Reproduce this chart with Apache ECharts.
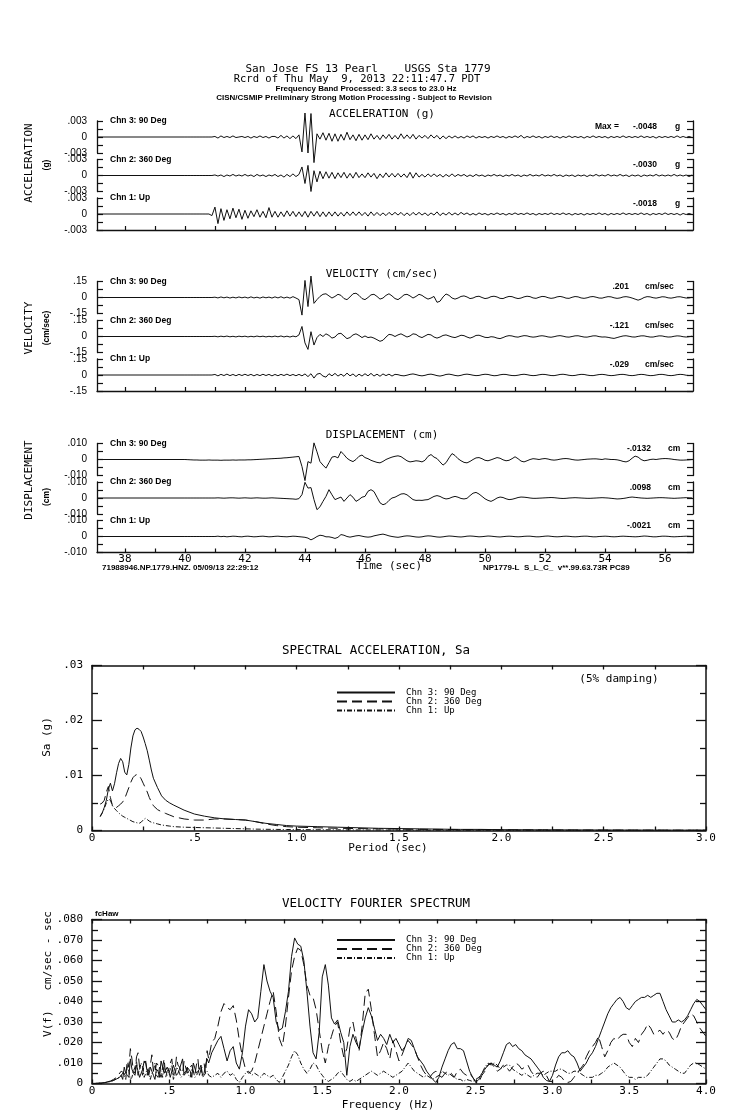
<!DOCTYPE html>
<html><head><meta charset="utf-8">
<script src="https://cdn.jsdelivr.net/npm/echarts@6.0.0/dist/echarts.min.js"></script>
<style>html,body{margin:0;padding:0;background:#fff}#c{width:739px;height:1115px}</style>
</head><body><div id="c"></div>
<script>
// ---------------- DATA ----------------
// Time histories: samples every 0.1 s starting at 40.0 s (record starts at 37.07 s with zero motion)
const recordStart = 37.07, recordEnd = 56.93;
const traceStart = 40.0, traceStep = 0.1;
const channelNames = ['Chn 3: 90 Deg', 'Chn 2: 360 Deg', 'Chn 1: Up'];
const timeTicks = [38,39,40,41,42,43,44,45,46,47,48,49,50,51,52,53,54,55,56];
const timeTickLabels = [38,40,42,44,46,48,50,52,54,56];

// Acceleration, units of 0.0001 g
const accCh3 = [
 0,0,0,0,0,0,0,0,0,0,
 1,-2,2,-1,1,-1,2,-1,0,1,
 -1,1,-2,1,-1,2,-1,1,-2,1,
 1,-2,3,-2,2,-3,2,-3,4,-28,
 45,-30,44,-48,6,-4,8,-6,7,-8,
 6,-8,5,-6,9,-5,4,-7,5,-6,
 4,-5,6,-4,3,-5,4,-3,5,-4,
 3,-4,6,-3,4,-3,5,-4,3,-2,
 3,-3,4,-2,3,-4,2,-3,2,-2,
 2,-2,1,-2,2,-1,2,-2,1,-1,
 1,-2,1,-1,2,-1,1,-2,1,-1,
 2,-1,3,-2,1,-1,2,-1,1,-2,
 1,-1,2,-1,1,-2,1,-1,2,-1,
 1,-1,1,-2,1,-1,2,-1,1,-1,
 1,-2,1,-1,1,-1,2,-1,1,-1,
 1,-1,2,-1,1,-1,1,-2,1,-1,
 1,-1,1,-1,2,-1,1,-1,1,-1];
const accCh2 = [
 0,0,0,0,0,0,0,0,0,0,
 1,-1,1,-2,1,-1,2,-1,1,-1,
 2,-1,1,-2,2,-1,1,-2,1,-1,
 2,-2,1,-3,2,-2,3,-2,2,16,
 -15,19,-30,9,-12,8,-6,7,-5,6,
 -6,5,-4,6,-5,4,-5,6,-4,3,
 -4,5,-3,4,-6,3,-4,5,-3,4,
 -3,4,-3,3,-4,6,-5,5,-3,2,
 -3,3,-2,3,-2,2,-3,2,-2,3,
 -2,2,-1,2,-2,1,-2,2,-1,1,
 -2,1,-1,2,-1,1,-2,1,-1,2,
 -1,1,-2,1,-1,2,-1,1,-1,2,
 -1,1,-1,2,-1,1,-2,1,-1,1,
 -2,1,-1,1,-2,1,-1,2,-1,1,
 -1,2,-1,1,-1,2,-1,1,-2,1,
 -1,1,-2,1,-1,1,-1,2,-1,1,
 -1,1,-1,2,-1,1,-1,1,-2,1];
const accCh1 = [
 0,0,0,0,0,0,0,0,0,-3,
 13,-18,10,-12,8,-9,11,-7,9,-10,
 7,-8,6,-5,8,-6,5,-7,12,-6,
 5,-6,4,-5,6,-4,5,-5,4,-5,
 5,-6,5,-4,5,-5,4,-5,4,-4,
 4,-4,3,-4,4,-3,4,-3,4,-3,
 3,-4,4,-3,3,-3,2,-3,3,-2,
 3,-2,3,-3,2,-3,3,-2,3,-2,
 2,-3,2,-2,4,-3,2,-2,3,-2,
 2,-2,3,-1,2,-2,1,-2,2,-1,
 1,-2,1,-1,2,-1,1,-2,1,-1,
 2,-1,1,-1,2,-1,1,-2,1,-1,
 1,-1,2,-1,1,-1,2,-1,1,-2,
 1,-1,1,-2,1,-1,1,-1,2,-1,
 1,-2,1,-1,1,-1,2,-1,1,-1,
 1,-1,2,-1,1,-2,1,-1,1,-1,
 2,-1,1,-1,1,-2,1,-1,1,-1];
const accPeaks = ['-.0048', '-.0030', '-.0018'];
const accTickLabels = ['.003', '0', '-.003'];

// Velocity, units of 0.001 cm/sec
const velCh3 = [
 0,0,0,0,0,0,0,0,0,0,
 3,-4,5,-3,4,-5,3,-4,5,-3,
 4,-5,6,-4,3,-6,5,-3,4,-5,
 6,-4,7,-5,4,-6,8,-5,-20,-165,
 160,-85,201,-55,-20,10,30,35,15,-5,
 10,30,20,-10,-20,5,35,40,20,-10,
 -20,0,25,30,10,-15,-5,20,35,15,
 -10,-20,0,25,30,15,-5,10,30,20,
 0,-15,-5,10,-45,-35,5,33,20,-5,
 -15,-5,10,15,5,-10,-5,8,12,0,
 -10,-5,8,12,5,-8,-10,2,10,8,
 -3,-10,-5,6,12,8,-4,-8,2,10,
 8,-2,-8,-4,6,10,4,-6,-8,2,
 9,6,-4,-8,-3,6,9,3,-5,-6,
 2,8,6,-3,-8,-4,5,8,3,-5,
 -15,-25,-15,0,8,6,-2,-6,0,7,
 5,-3,-6,-1,6,7,1,-5,-4,2];
const velCh2 = [
 0,0,0,0,0,0,0,0,0,0,
 2,-3,3,-2,4,-3,2,-4,3,-2,
 3,-4,2,-3,4,-2,3,-4,2,-3,
 4,-3,5,-4,3,-5,4,-3,15,94,
 -60,-121,45,-80,-10,20,0,25,10,-15,
 -5,25,30,5,-20,-10,15,25,10,-10,
 5,-10,-5,-15,-30,-45,-35,-5,20,15,
 0,15,25,10,-5,5,25,20,0,-10,
 5,20,15,-5,-15,-5,10,15,5,-5,
 -10,0,12,8,-5,-15,-5,10,12,2,
 -8,-10,-2,-5,-15,-20,-10,2,8,5,
 -3,-6,2,8,6,-2,-6,-3,4,7,
 3,-4,-7,-2,5,8,3,-4,-6,0,
 6,7,1,-5,-6,0,6,6,-1,-5,
 -4,-8,-14,-18,-10,-2,5,7,2,-4,
 -5,1,6,6,0,-5,-5,1,6,5,
 -1,-5,-4,2,6,4,-2,-5,-2,3];
const velCh1 = [
 0,0,0,0,0,0,0,0,0,0,
 5,-8,6,-5,8,-6,5,-7,6,-5,
 7,-5,6,-8,5,-6,7,-5,6,-8,
 5,-7,6,-5,8,-6,5,-7,6,-8,
 10,-15,12,-29,8,15,-10,-20,12,-8,
 15,-10,8,-12,18,-8,10,-15,8,-10,
 12,-8,15,-10,8,-12,10,-6,8,-10,
 6,3,-5,-8,-2,6,10,4,-4,-8,
 -3,5,8,2,-6,-10,-4,5,8,3,
 -4,-8,-3,5,8,4,-2,-6,-4,3,
 7,5,-2,-7,-5,2,6,5,-1,-5,
 -6,-2,4,7,3,-3,-6,-4,2,6,
 5,0,-5,-6,-1,5,7,3,-3,-6,
 -4,2,6,5,-1,-5,-6,-1,4,6,
 3,-3,-6,-4,1,5,6,2,-4,-6,
 -3,3,6,4,-2,-6,-5,0,5,6,
 2,-4,-6,-3,3,6,4,-2,-5,-3];
const velPeaks = ['.201', '-.121', '-.029'];
const velTickLabels = ['.15', '0', '-.15'];

// Displacement, units of 0.0001 cm
const dispCh3 = [
 0,-1,-2,-3,-3,-4,-4,-4,-3,-4,
 -4,-4,-5,-4,-4,-4,-3,-4,-3,-3,
 -3,-2,-2,-1,0,1,2,3,4,5,
 6,7,8,10,11,13,15,17,19,-44,
 -132,-13,-23,104,48,-13,-35,-54,-20,15,
 19,10,50,30,8,-5,-13,0,20,28,
 12,5,-5,-12,-18,-21,-12,0,8,15,
 20,23,18,5,-8,-15,-12,-8,-10,-15,
 -5,20,31,15,6,-15,-35,-20,10,37,
 25,5,-8,-18,-21,-12,0,10,12,5,
 -5,-8,-2,5,12,8,-2,-8,-5,5,
 17,5,-10,-15,-8,0,5,3,0,4,
 6,3,-2,-4,-2,2,5,6,4,0,
 -3,-4,-2,0,2,3,4,4,2,0,
 4,2,0,0,-2,-6,-12,-15,-8,8,
 21,15,0,-8,-5,0,2,0,3,5,
 6,5,3,0,-2,-4,-4,-3,-2,0];
const dispCh2 = [
 0,0,0,0,0,0,0,0,0,0,
 0,1,0,-1,0,1,1,0,-1,0,
 1,0,-1,0,1,0,-1,-1,0,1,
 0,-1,-2,-3,-4,-5,-6,-8,-4,21,
 98,62,65,-10,-73,-55,-21,10,52,20,
 -10,-2,6,-21,0,21,5,-21,-10,5,
 10,42,52,40,5,-30,-42,-35,-15,0,
 5,15,25,27,20,5,-10,-15,-14,-15,
 -12,-10,0,10,15,10,0,-6,-3,5,
 10,5,-3,-6,-2,15,30,35,25,10,
 -5,-15,-21,-12,0,6,3,-5,-10,-8,
 -3,3,6,5,3,0,-2,-2,-1,0,
 1,2,3,2,0,-2,-3,-2,0,1,
 2,1,0,-1,-2,-2,-1,0,1,2,
 1,0,-2,-4,-6,-5,-3,0,4,6,
 4,2,0,-1,-2,-1,0,1,2,2,
 1,0,-1,-2,-1,0,1,2,1,0];
const dispCh1 = [
 0,0,0,0,0,0,0,0,0,0,
 0,2,-1,1,-2,0,2,1,-1,-2,
 1,2,0,-2,-1,1,2,0,-2,-1,
 1,2,0,-1,-2,0,2,1,-1,-3,
 -5,-10,-21,-12,0,8,5,-2,-2,-6,
 -12,-5,12,8,0,-4,0,4,6,2,
 -2,-4,-2,4,8,12,15,10,4,0,
 -3,-5,-2,2,4,3,0,-3,-4,-2,
 2,4,3,0,-3,-4,-2,1,3,2,
 0,-2,-3,-1,2,3,2,0,-2,-1,
 1,3,2,0,-2,-3,-1,1,2,1,
 -1,-2,-1,1,2,2,0,-2,-2,0,
 2,3,1,-1,-2,-1,1,2,1,-1,
 -2,-1,1,2,2,0,-2,-2,0,1,
 2,1,-1,-2,-1,1,2,1,0,-1,
 -2,-1,1,3,2,0,-2,-2,0,2,
 2,1,-1,-2,-1,0,1,2,1,0];
const dispPeaks = ['-.0132', '.0098', '-.0021'];
const dispTickLabels = ['.010', '0', '-.010'];

// Spectral acceleration (5% damping), Sa in units of 0.0001 g
const saPeriod = [0.04,0.05,0.06,0.07,0.08,0.09,0.10,0.11,0.12,0.13,0.14,0.15,0.16,0.17,0.18,0.19,0.20,0.21,0.22,0.23,0.24,0.25,0.26,0.27,0.28,0.29,0.30,
 0.32,0.34,0.36,0.38,0.40, 0.45,0.50,0.55,0.60,0.65,0.70,0.75,0.80,0.85,0.90,0.95,1.0, 1.1,1.2,1.3,1.4,1.5,1.6,1.7,1.8,1.9,2.0, 2.2,2.4,2.6,2.8,3.0];
const saCh3 = [25,32,42,55,75,86,72,85,105,122,131,125,106,101,120,150,172,183,186,184,180,170,158,145,128,110,95,
 78,63,55,50,46, 37,30,26,23,21,20,19,16,13,11,9,8, 7,6,5,4,3.5,3,2.5,2,2,1.5, 1.2,1,0.8,0.7,0.6];
const saCh2 = [48,50,55,70,80,60,45,40,42,45,48,52,58,68,78,88,96,100,102,100,94,86,78,70,60,52,45,
 38,34,31,28,25, 21,19,19,21,21,20,19,16,12,9,7,6, 5,4,3.5,3,2.5,2,2,1.5,1.5,1.2, 1,0.8,0.7,0.6,0.5];
const saCh1 = [26,32,40,50,57,55,45,40,36,32,29,26,24,22,20,18,16,15,14,13,15,19,22,20,17,15,14,
 12,10,9,8,7, 6,5.5,5,4.5,4,3.5,3,2.5,2.2,2,1.8,1.6, 1.4,1.2,1,0.9,0.8,0.7,0.6,0.5,0.5,0.4, 0.4,0.3,0.3,0.3,0.3];
const saXLabels = ['0', '.5', '1.0', '1.5', '2.0', '2.5', '3.0'];
const saYLabels = ['0', '.01', '.02', '.03'];

// Velocity Fourier spectrum, units of 0.001 cm/sec-sec, every 0.02 Hz from 0 Hz
const fsStep = 0.02;
const fsCh3 = [
 0,0,0.1,0.2,0.4,0.7,1,1.5,2.2,3,
 2,5,3,7,4,9,5,11,6,8,
 4,7,3,8,5,6,3,9,5,7,
 4,8,6,10,5,7,4,9,10,15,
 18,21,23,17,11,16,18,10,7,15,
 28,36,34,30,32,45,58,50,45,42,
 30,26,27,35,45,62,71,68,67,60,
 45,28,15,12,25,52,58,48,32,29,
 31,25,20,4,18,24,20,17,25,32,
 37,33,27,21,24,22,19,24,20,22,
 19,16,18,22,21,17,13,11,9,6,
 4,2,0.5,3,8,12,16,19,20,17,
 17,16,11,6,3,0.5,2,5,7,9,
 10,9,8,11,15,19,20,18,19,17,
 16,14,13,12,10,8,6,3,1.5,1,
 4,9,13,15,15,16,14,13,10,6,
 8,10,13,15,18,22,26,30,34,37,
 39,41,42,40,37,36,38,40,41,42,
 42,43,42,43,44,44,40,36,33,30,
 30,31,30,31,33,36,39,41,40,38,
 36];
const fsCh2 = [
 0,0,0.1,0.2,0.4,0.8,1.2,2,3,4,
 6,3,8,12,5,15,7,10,4,9,
 6,10,5,8,3,7,12,5,9,6,
 11,5,8,6,9,4,7,5,12,20,
 22,28,35,39,37,36,38,31,21,13,
 7,5,6,10,16,22,28,34,40,45,
 35,22,18,28,42,55,62,66,65,58,
 48,43,42,36,26,16,10,18,23,28,
 30,20,13,17,27,30,22,16,28,44,
 46,36,24,13,16,20,17,12,21,16,
 11,14,18,21,19,17,13,9,6,4,
 3,5,6,4,3,5,6,4,3,6,
 7,5,4,5,3,1,0.5,4,6,9,
 10,8,6,7,9,8,6,8,10,9,
 7,8,9,6,4,3,5,6,4,1,
 1,2,4,3,1,0.5,1,3,5,7,
 9,13,16,18,20,23,18,13,16,20,
 22,21,23,24,24,20,18,22,20,24,
 26,29,27,24,25,26,24,26,25,22,
 21,24,28,30,32,34,33,30,27,25,
 23];
const fsCh1 = [
 0,0,0.1,0.2,0.4,0.7,1,1.5,2.5,3,
 5,2,6,3,8,4,10,3,7,2,
 6,4,8,3,6,5,9,4,7,3,
 5,8,3,6,4,7,3,5,4,3,
 4,5,3,5,6,4,5,2,0.5,3,
 5,6,4,5,4,3,5,4,3,4,
 2,0.5,3,6,9,13,16,14,10,7,
 5,7,10,9,6,4,2,1,2,3,
 5,6,4,2,1,2,1,2,3,4,
 5,6,5,4,5,6,5,4,3,4,
 5,6,8,10,8,6,5,4,3,4,
 3,2,3,4,6,5,4,5,3,2,
 2,1,2,1.5,1,2,3,5,8,10,
 9,10,9,7,8,9,9,7,6,5,
 4,5,4,3,4,5,5,4,5,6,
 6,6,7,7,6,5,5,6,6,5,
 4,3,3,3,4,4,5,6,8,9,
 10,9,8,6,4,3,3,2,3,3,
 3,4,6,8,10,12,12,11,9,8,
 7,6,5,5,7,9,10,10,9,8,
 7];
// extra in-between samples of the noisy band, at 0.17, 0.19, ... 0.75 Hz
const fsMidStart = 0.17;
const fsCh3Mid = [3,4,8,4,12,5,9,3,7,10,4,8,2,6,11,5,8,3,9,4,7,12,5,8,3,10,6,9,5,12];
const fsCh2Mid = [4,6,5,11,17,6,13,8,4,11,7,14,5,9,3,12,6,10,4,13,8,5,11,6,9,4,12,7,10,16];
const fsCh1Mid = [2,4,4,9,2,6,11,4,8,3,7,5,10,3,6,9,4,7,2,8,5,3,6,4,7,3,5,8,4,6];
const fsXLabels = ['0', '.5', '1.0', '1.5', '2.0', '2.5', '3.0', '3.5', '4.0'];
const fsYLabels = ['0', '.010', '.020', '.030', '.040', '.050', '.060', '.070', '.080'];

// ---------------- CHART ----------------
const INK = '#111';
const MONO = '"DejaVu Sans Mono", monospace';
const SANS = '"Liberation Sans", Arial, sans-serif';

function traceData(vals) {
  const d = [[recordStart, 0]];
  vals.forEach((v, i) => d.push([+(traceStart + i * traceStep).toFixed(2), v]));
  return d;
}
function pairs(xs, ys) { return ys.map((v, i) => [xs[i], v]); }
function stepPairs(start, step, ys) { return ys.map((v, i) => [+(start + i * step).toFixed(3), v]); }
function fourier(main, mid) {
  return stepPairs(0, fsStep, main).concat(stepPairs(fsMidStart, fsStep, mid)).sort((a, b) => a[0] - b[0]);
}

const panels = [
  {title: 'ACCELERATION (g)', titleY: 114, name: 'ACCELERATION', nameY: 163, unitName: '(g)', unitY: 165,
   zeros: [137, 175.5, 214], half: 30, labels: accTickLabels, series: [accCh3, accCh2, accCh1], peaks: accPeaks,
   unit: 'g', valueRight: 657, unitLeft: 675, showTime: false},
  {title: 'VELOCITY (cm/sec)', titleY: 274, name: 'VELOCITY', nameY: 328, unitName: '(cm/sec)', unitY: 328,
   zeros: [297.5, 336.5, 375], half: 150, labels: velTickLabels, series: [velCh3, velCh2, velCh1], peaks: velPeaks,
   unit: 'cm/sec', valueRight: 629, unitLeft: 645, showTime: false},
  {title: 'DISPLACEMENT (cm)', titleY: 435, name: 'DISPLACEMENT', nameY: 480, unitName: '(cm)', unitY: 497,
   zeros: [459.5, 498, 536.5], half: 100, labels: dispTickLabels, series: [dispCh3, dispCh2, dispCh1], peaks: dispPeaks,
   unit: 'cm', valueRight: 651, unitLeft: 668, showTime: true}
];

const grid = [], xAxis = [], yAxis = [], series = [], graphic = [];
function txt(text, x, y, opt) {
  opt = opt || {};
  const el = {type: 'text', x: x, y: y, silent: true,
    style: {text: text, fill: '#000', fontSize: opt.size || 11, fontFamily: opt.family || MONO,
      fontWeight: opt.weight || 'normal', align: opt.align || 'center', verticalAlign: 'middle',
      textAlign: opt.align || 'center', textVerticalAlign: 'middle'}};
  if (opt.rot) el.rotation = opt.rot;
  graphic.push(el);
}

const PLOT_LEFT = 97, PLOT_WIDTH = 596, H = 16;
panels.forEach((p) => {
  p.zeros.forEach((z, c) => {
    const gi = grid.length;
    const bottom = c === 2;
    grid.push({left: PLOT_LEFT, width: PLOT_WIDTH, top: z - H, height: 2 * H});
    xAxis.push({gridIndex: gi, type: 'value', min: recordStart, max: recordEnd, show: bottom,
      axisLine: {show: true, onZero: false, lineStyle: {color: INK, width: 1.3}},
      axisTick: {show: true, inside: true, length: 4, customValues: timeTicks, lineStyle: {color: INK, width: 1.2}},
      axisLabel: {show: p.showTime, customValues: timeTickLabels, margin: 1, color: '#000', fontFamily: MONO, fontSize: 11,
        formatter: v => String(v)},
      splitLine: {show: false}});
    const lab = v => (v === p.half ? p.labels[0] : v === 0 ? p.labels[1] : v === -p.half ? p.labels[2] : '');
    ['left', 'right'].forEach((pos) => {
      yAxis.push({gridIndex: gi, type: 'value', position: pos, min: -p.half, max: p.half, interval: p.half / 2,
        axisLine: {show: true, onZero: false, lineStyle: {color: INK, width: 1.3}},
        axisTick: {show: true, inside: true, length: 6, lineStyle: {color: INK, width: 1.2}},
        axisLabel: {show: pos === 'left', margin: 10, color: '#000', fontFamily: SANS, fontSize: 10, formatter: lab},
        splitLine: {show: false}});
    });
    series.push({type: 'line', xAxisIndex: gi, yAxisIndex: yAxis.length - 2, data: traceData(p.series[c]),
      symbol: 'none', showSymbol: false, clip: false, silent: true, animation: false,
      itemStyle: {color: INK}, lineStyle: {color: INK, width: 1}});
    txt(channelNames[c], 110, z - H, {size: 8.5, family: SANS, weight: 'bold', align: 'left'});
    txt(p.peaks[c], p.valueRight, z - 10.5, {size: 8.5, family: SANS, weight: 'bold', align: 'right'});
    txt(p.unit, p.unitLeft, z - 10.5, {size: 8.5, family: SANS, weight: 'bold', align: 'left'});
  });
  txt(p.title, 382, p.titleY, {size: 11});
  txt(p.name, 29, p.nameY, {size: 11, rot: Math.PI / 2});
  txt(p.unitName, 47, p.unitY, {size: 8.5, family: SANS, weight: 'bold', rot: Math.PI / 2});
});
txt('Max =', 595, panels[0].zeros[0] - 10.5, {size: 8.5, family: SANS, weight: 'bold', align: 'left'});
txt('Time (sec)', 389, 566, {size: 11});
txt('71988946.NP.1779.HNZ. 05/09/13 22:29:12', 102, 568, {size: 8, family: SANS, weight: 'bold', align: 'left'});
txt('NP1779-L  S_L_C_  v**.99.63.73R PC89', 483, 568, {size: 8, family: SANS, weight: 'bold', align: 'left'});

// header
txt('San Jose FS 13 Pearl    USGS Sta 1779', 368, 69, {size: 11});
txt('Rcrd of Thu May  9, 2013 22:11:47.7 PDT', 357, 79, {size: 10.5});
txt('Frequency Band Processed: 3.3 secs to 23.0 Hz', 366, 89, {size: 8, family: SANS, weight: 'bold'});
txt('CISN/CSMIP Preliminary Strong Motion Processing - Subject to Revision', 354, 98, {size: 8, family: SANS, weight: 'bold'});

// spectra
function spectrum(top, height, xMax, yMax, yInterval, xLabels, yLabels, data, title, titleY, xName, xNameY) {
  const gi = grid.length;
  grid.push({left: 92, width: 614, top: top, height: height});
  const xi = xAxis.length;
  ['bottom', 'top'].forEach((pos) => {
    xAxis.push({gridIndex: gi, type: 'value', position: pos, min: 0, max: xMax, interval: 0.5,
      axisLine: {show: true, onZero: false, lineStyle: {color: INK, width: 1.5}},
      axisTick: {show: true, inside: true, length: 4, lineStyle: {color: INK, width: 1.3}},
      minorTick: {show: true, splitNumber: 2, length: 4, lineStyle: {color: INK, width: 1.3}},
      axisLabel: {show: pos === 'bottom', margin: 2, color: '#000', fontFamily: MONO, fontSize: 11,
        formatter: (v) => xLabels[Math.round(v / 0.5)]},
      splitLine: {show: false}, minorSplitLine: {show: false}});
  });
  const yi = yAxis.length;
  ['left', 'right'].forEach((pos) => {
    yAxis.push({gridIndex: gi, type: 'value', position: pos, min: 0, max: yMax, interval: yInterval,
      axisLine: {show: true, onZero: false, lineStyle: {color: INK, width: 1.5}},
      axisTick: {show: true, inside: true, length: 10, lineStyle: {color: INK, width: 1.3}},
      minorTick: {show: true, splitNumber: 2, length: 6, lineStyle: {color: INK, width: 1.3}},
      axisLabel: {show: pos === 'left', margin: 9, color: '#000', fontFamily: MONO, fontSize: 11,
        formatter: v => yLabels[Math.round(v / yInterval)]},
      splitLine: {show: false}, minorSplitLine: {show: false}});
  });
  const styles = [
    {color: INK, width: 1, type: 'solid'},
    {color: INK, width: 1, type: [10, 5]},
    {color: INK, width: 1, type: [5, 2, 1, 2]}];
  data.forEach((d, k) => {
    series.push({type: 'line', name: channelNames[k], xAxisIndex: xi, yAxisIndex: yi, data: d,
      symbol: 'none', showSymbol: false, silent: true, animation: false,
      itemStyle: {color: INK}, lineStyle: styles[k]});
  });
  txt(title, 376, titleY, {size: 12.5});
  txt(xName, 388, xNameY, {size: 11});
}
spectrum(665.5, 165, 3, 300, 100, saXLabels, saYLabels,
  [pairs(saPeriod, saCh3), pairs(saPeriod, saCh2), pairs(saPeriod, saCh1)],
  'SPECTRAL ACCELERATION, Sa', 651, 'Period (sec)', 848);
spectrum(919.5, 164, 4, 80, 10, fsXLabels, fsYLabels,
  [fourier(fsCh3, fsCh3Mid), fourier(fsCh2, fsCh2Mid), fourier(fsCh1, fsCh1Mid)],
  'VELOCITY FOURIER SPECTRUM', 904, 'Frequency (Hz)', 1105);
txt('(5% damping)', 619, 679, {size: 11});
txt('Sa (g)', 47, 737, {size: 11, rot: Math.PI / 2});
txt('V(f)   cm/sec - sec', 48, 974, {size: 11, rot: Math.PI / 2});
txt('fcHaw', 95, 914, {size: 8, family: SANS, weight: 'bold', align: 'left'});

const legendBase = {data: channelNames, orient: 'vertical', left: 336, itemWidth: 58, itemHeight: 7.5, itemGap: 0,
  selectedMode: false, padding: 0, itemStyle: {opacity: 0},
  textStyle: {fontFamily: MONO, fontSize: 9, lineHeight: 7.5, color: '#000', padding: [0, 0, 0, 6]}};

const chart = echarts.init(document.getElementById('c'), null, {renderer: 'canvas'});
chart.setOption({
  animation: false,
  backgroundColor: '#fff',
  textStyle: {fontFamily: MONO},
  grid: grid, xAxis: xAxis, yAxis: yAxis, series: series,
  legend: [Object.assign({top: 688}, legendBase), Object.assign({top: 935.5}, legendBase)],
  graphic: {elements: graphic}
});
</script></body></html>
